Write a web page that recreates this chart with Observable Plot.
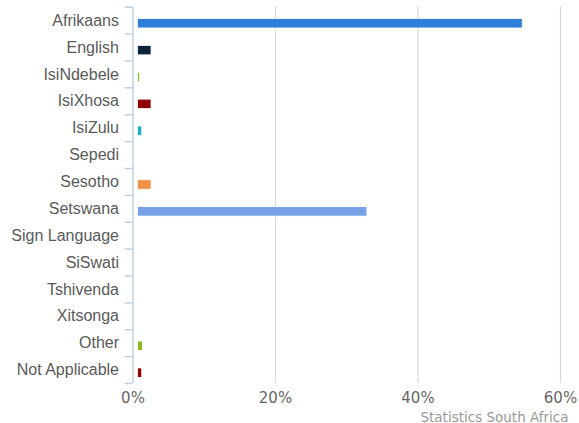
<!DOCTYPE html>
<html><head><meta charset="utf-8">
<script src="https://cdn.jsdelivr.net/npm/d3@7"></script>
<script src="https://cdn.jsdelivr.net/npm/@observablehq/plot@0.6"></script>
<style>body{margin:0;background:#fff}</style>
</head><body><div id="chart"></div>
<script>
const categories = ["Afrikaans","English","IsiNdebele","IsiXhosa","IsiZulu","Sepedi","Sesotho","Setswana","Sign Language","SiSwati","Tshivenda","Xitsonga","Other","Not Applicable"];
const values = [54.7, 2.6, 1.0, 2.6, 1.3, 0.05, 2.6, 32.9, 0.1, 0.1, 0.05, 0.1, 1.4, 1.3];
const colors = ["#2f7ed8","#0d233a","#8bbc21","#910000","#1aadce","#492970","#f28f43","#77a1e5","#c42525","#a6c96a","#2f7ed8","#0d233a","#8bbc21","#910000"];
const xTicks = [0, 20, 40, 60];
const credit = "Statistics South Africa";

const data = categories.map((c, i) => ({language: c, share: values[i], color: colors[i]}));
const frameTop = 6.7, frameBottom = 383;
const band = (frameBottom - frameTop) / categories.length;

const chart = Plot.plot({
  width: 579, height: 423,
  marginLeft: 132.5, marginRight: 19, marginTop: frameTop, marginBottom: 423 - frameBottom,
  style: {fontFamily: "Liberation Sans, Arial, sans-serif", fontSize: "16px", color: "#5a5a5a", background: "#fff"},
  x: {domain: [0, 60]},
  y: {domain: categories, padding: 0, round: false},
  color: {type: "identity"},
  marks: [
    Plot.ruleX([20, 40, 60], {stroke: "#d6d6d6", strokeWidth: 1.2}),
    Plot.barX(data, {y: "language", x1: 0, x2: "share", fill: "color", stroke: "#fff", strokeWidth: 0.8,
      insetLeft: 5, insetTop: 11.8, insetBottom: 5.6}),
    Plot.ruleX([0], {stroke: "#c0d0e0", strokeWidth: 1.5}),
    Plot.ruleY(categories, {y: d => d, dy: -band / 2, x1: -1.1, x2: 0, stroke: "#c0d0e0", strokeWidth: 1.5}),
    Plot.ruleY([categories[categories.length - 1]], {y: d => d, dy: band / 2, x1: -1.1, x2: 0, stroke: "#c0d0e0", strokeWidth: 1.5}),
    Plot.axisY({tickSize: 0, tickPadding: 14, label: null}),
    Plot.axisX({ticks: xTicks, tickFormat: d => d + "%", tickSize: 0, tickPadding: 9, label: null,
      fontFamily: "DejaVu Sans", fontSize: 15, fill: "#666"}),
    Plot.text([credit], {frameAnchor: "bottom-right", dx: 8, dy: 38, lineAnchor: "bottom",
      fontFamily: "DejaVu Sans", fontSize: 13.5, fill: "#999"})
  ]
});
document.getElementById("chart").appendChild(chart);
</script>
</body></html>
